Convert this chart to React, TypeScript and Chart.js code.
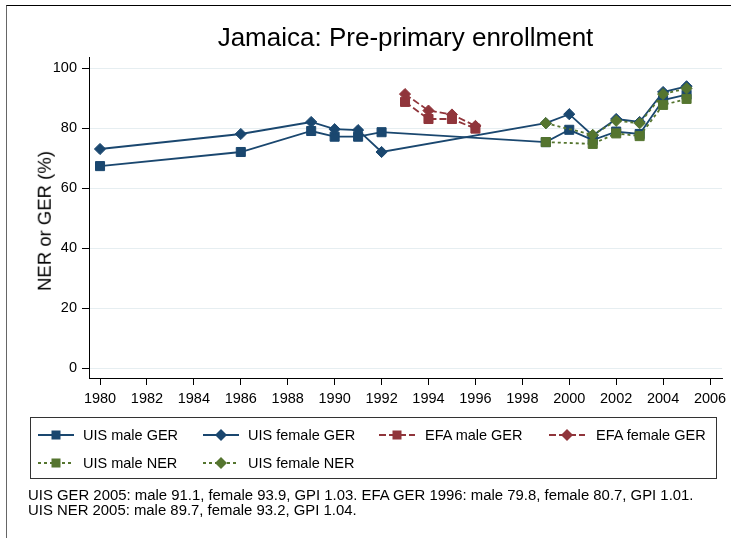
import React, { useEffect, useRef } from "react";
import { Chart, registerables } from "chart.js";

Chart.register(...registerables);

// ---- Data ----
const uisYears = [1980, 1986, 1989, 1990, 1991, 1992, 1999, 2000, 2001, 2002, 2003, 2004, 2005];
const uisMaleGER = [67.3, 72.0, 79.0, 77.1, 77.1, 78.6, 75.3, 79.4, 76.0, 78.8, 78.0, 89.3, 91.1];
const uisFemaleGER = [73.0, 78.0, 82.0, 79.6, 79.3, 72.0, 81.6, 84.6, 77.5, 83.0, 82.0, 92.0, 93.9];

const efaYears = [1993, 1994, 1995, 1996];
const efaMaleGER = [88.7, 83.0, 83.0, 79.8];
const efaFemaleGER = [91.3, 85.8, 84.5, 80.7];

const nerYears = [1999, 2001, 2002, 2003, 2004, 2005];
const nerMale = [75.3, 74.7, 78.2, 77.3, 87.7, 89.7];
const nerFemale = [81.6, 77.7, 82.4, 81.6, 91.3, 93.2];

const xTicks = [1980, 1982, 1984, 1986, 1988, 1990, 1992, 1994, 1996, 1998, 2000, 2002, 2004, 2006];
const yTicks = [0, 20, 40, 60, 80, 100];

const titleText = "Jamaica: Pre-primary enrollment";
const yTitleText = "NER or GER (%)";
const footnoteLines = [
  "UIS GER 2005: male 91.1, female 93.9, GPI 1.03. EFA GER 1996: male 79.8, female 80.7, GPI 1.01.",
  "UIS NER 2005: male 89.7, female 93.2, GPI 1.04.",
];

const NAVY = "#1a476f";
const RED = "#90353b";
const GREEN = "#55752f";
const FONT = "'Liberation Sans', Arial, Helvetica, sans-serif";

const RED_DASH = [7, 3];
const GREEN_DASH = [3, 3];

type Series = {
  label: string;
  years: number[];
  values: number[];
  color: string;
  dash: number[];
  marker: "rect" | "rectRot";
  order: number;
};

const series: Series[] = [
  { label: "UIS male GER", years: uisYears, values: uisMaleGER, color: NAVY, dash: [], marker: "rect", order: 6 },
  { label: "UIS female GER", years: uisYears, values: uisFemaleGER, color: NAVY, dash: [], marker: "rectRot", order: 5 },
  { label: "EFA male GER", years: efaYears, values: efaMaleGER, color: RED, dash: RED_DASH, marker: "rect", order: 4 },
  { label: "EFA female GER", years: efaYears, values: efaFemaleGER, color: RED, dash: RED_DASH, marker: "rectRot", order: 3 },
  { label: "UIS male NER", years: nerYears, values: nerMale, color: GREEN, dash: GREEN_DASH, marker: "rect", order: 2 },
  { label: "UIS female NER", years: nerYears, values: nerFemale, color: GREEN, dash: GREEN_DASH, marker: "rectRot", order: 1 },
];

// legend layout (column / row)
const legendCols = [38, 203, 379, 549];
const legendTextCols = [83, 248, 425, 596];
const legendRows = [435, 462.5];

function LegendSymbol({ s }: { s: Series }) {
  const dash = s.dash.length ? s.dash.join(",") : undefined;
  return (
    <svg width={36} height={16} style={{ position: "absolute", left: 0, top: 0 }}>
      <line x1={0} y1={8} x2={36} y2={8} stroke={s.color} strokeWidth={1.8} strokeDasharray={dash} />
      {s.marker === "rect" ? (
        <rect x={13.5} y={3.5} width={9} height={9} fill={s.color} />
      ) : (
        <polygon points="18,2 24,8 18,14 12,8" fill={s.color} />
      )}
    </svg>
  );
}

export default function App() {
  const canvasRef = useRef<HTMLCanvasElement | null>(null);

  useEffect(() => {
    const canvas = canvasRef.current;
    if (!canvas) return;
    const chart = new Chart(canvas, {
      type: "line",
      data: {
        datasets: series.map((s) => ({
          label: s.label,
          data: s.years.map((x, i) => ({ x, y: s.values[i] })),
          borderColor: s.color,
          backgroundColor: s.color,
          borderWidth: 1.8,
          borderDash: s.dash,
          pointStyle: s.marker,
          pointRadius: s.marker === "rect" ? 6.4 : 5.6,
          pointBorderWidth: 1,
          pointBackgroundColor: s.color,
          pointBorderColor: s.color,
          tension: 0,
          fill: false,
          order: s.order,
        })),
      },
      options: {
        animation: false,
        responsive: false,
        maintainAspectRatio: false,
        devicePixelRatio: 1,
        layout: { padding: { left: 0, right: 9, top: 57, bottom: 0 } },
        plugins: {
          legend: { display: false },
          tooltip: { enabled: false },
          title: { display: false },
        },
        scales: {
          x: {
            type: "linear",
            min: 1979.53,
            max: 2006.51,
            afterBuildTicks: (scale: any) => {
              scale.ticks = xTicks.map((v) => ({ value: v }));
            },
            afterFit: (scale: any) => {
              scale.height = 160;
              scale.paddingLeft = 0;
              scale.paddingRight = 0;
            },
            grid: {
              drawOnChartArea: false,
              drawTicks: true,
              tickLength: 7,
              tickColor: "#000",
              tickWidth: 1,
            },
            border: { display: true, color: "#000", width: 1 },
            ticks: {
              autoSkip: false,
              maxRotation: 0,
              minRotation: 0,
              padding: 5,
              color: "#000",
              font: { family: FONT, size: 14.5 },
              callback: (v: any) => String(v),
            },
          },
          y: {
            type: "linear",
            min: -3.333,
            max: 103.667,
            afterBuildTicks: (scale: any) => {
              scale.ticks = yTicks.map((v) => ({ value: v }));
            },
            afterFit: (scale: any) => {
              scale.width = 89;
              scale.paddingTop = 0;
              scale.paddingBottom = 0;
            },
            grid: {
              drawOnChartArea: true,
              color: "#e6eef1",
              lineWidth: 1,
              drawTicks: true,
              tickLength: 7,
              tickColor: "#000",
              tickWidth: 1,
            },
            border: { display: true, color: "#000", width: 1 },
            ticks: {
              padding: 5,
              color: "#000",
              font: { family: FONT, size: 14.5 },
              callback: (v: any) => String(v),
            },
          },
        },
      },
    } as any);
    return () => chart.destroy();
  }, []);

  return (
    <div
      style={{
        position: "absolute",
        left: 0,
        top: 0,
        width: 731,
        height: 538,
        overflow: "hidden",
        background: "#fff",
        fontFamily: FONT,
        color: "#000",
      }}
    >
      <div
        style={{
          position: "absolute",
          left: 6,
          top: 5,
          width: 1000,
          height: 1000,
          borderTop: "1px solid #000",
          borderLeft: "1px solid #666",
        }}
      />
      <canvas
        ref={canvasRef}
        width={731}
        height={538}
        style={{ position: "absolute", left: 0, top: 0, width: 731, height: 538 }}
      />
      <div
        style={{
          position: "absolute",
          left: 89,
          width: 633,
          top: 24,
          textAlign: "center",
          fontSize: 26,
          lineHeight: "26px",
          whiteSpace: "nowrap",
        }}
      >
        {titleText}
      </div>
      <div
        style={{
          position: "absolute",
          left: 45,
          top: 221,
          transform: "translate(-50%, -50%) rotate(-90deg)",
          fontSize: 18.5,
          lineHeight: "18.5px",
          whiteSpace: "nowrap",
        }}
      >
        {yTitleText}
      </div>
      <div
        style={{
          position: "absolute",
          left: 30,
          top: 417,
          width: 685,
          height: 60,
          border: "1px solid #333",
        }}
      />
      {series.map((s, i) => {
        const col = i < 4 ? i : i - 4;
        const row = i < 4 ? 0 : 1;
        return (
          <React.Fragment key={s.label}>
            <div
              style={{
                position: "absolute",
                left: legendCols[col],
                top: legendRows[row] - 8,
                width: 36,
                height: 16,
              }}
            >
              <LegendSymbol s={s} />
            </div>
            <div
              style={{
                position: "absolute",
                left: legendTextCols[col],
                top: legendRows[row] - 8,
                fontSize: 14.5,
                lineHeight: "16px",
                whiteSpace: "nowrap",
              }}
            >
              {s.label}
            </div>
          </React.Fragment>
        );
      })}
      {footnoteLines.map((t, i) => (
        <div
          key={i}
          style={{
            position: "absolute",
            left: 28,
            top: 495 + i * 15 - 8,
            fontSize: 14.9,
            lineHeight: "16px",
            whiteSpace: "nowrap",
          }}
        >
          {t}
        </div>
      ))}
    </div>
  );
}
